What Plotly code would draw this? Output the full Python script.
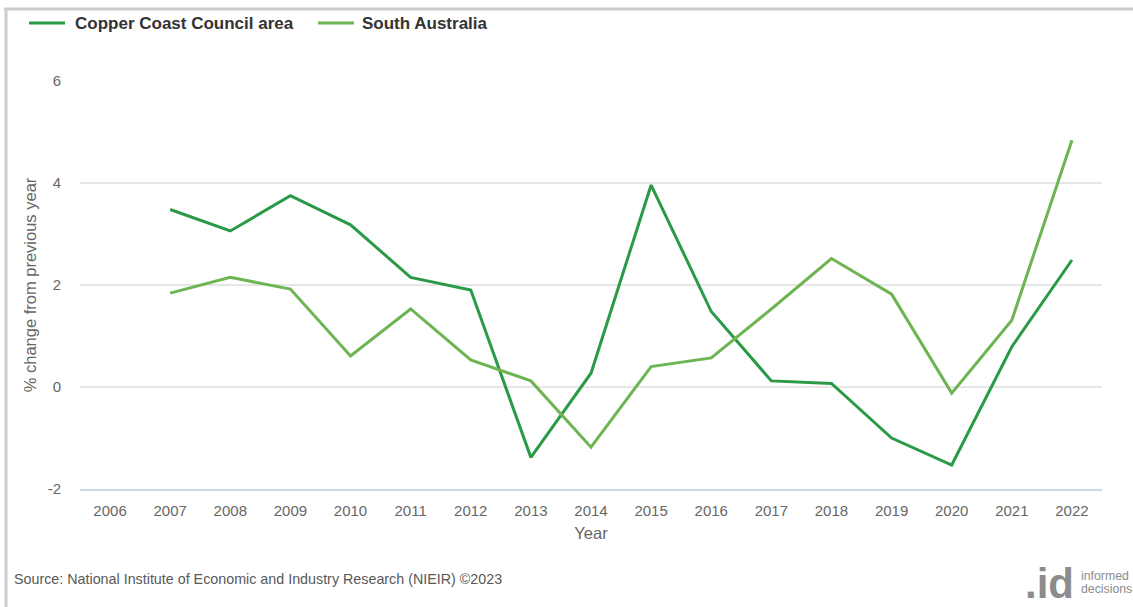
import plotly.graph_objects as go

years = [str(y) for y in range(2006, 2023)]
copper_coast = [None, 3.48, 3.06, 3.75, 3.18, 2.15, 1.90, -1.38, 0.27, 3.96, 1.48, 0.12, 0.07, -1.00, -1.53, 0.79, 2.49]
south_australia = [None, 1.84, 2.15, 1.92, 0.61, 1.53, 0.53, 0.12, -1.18, 0.40, 0.57, 1.53, 2.52, 1.82, -0.12, 1.31, 4.84]
y_ticks = [-2, 0, 2, 4, 6]
y_tick_text = ["-2", "0", "2", "4", "6"]
series_names = ["Copper Coast Council area", "South Australia"]

DARK = "#2a9a46"
LIGHT = "#6db553"
FONT = "Liberation Sans, Arial, sans-serif"

W, H = 1133, 607
L, R, T, B = 80, 1102, 81, 489


def px(x):
    return (x - L) / (R - L)


def py(y):
    return (B - y) / (B - T)


fig = go.Figure()
fig.add_trace(go.Scatter(x=years, y=copper_coast, mode="lines", name=series_names[0],
                         line=dict(color=DARK, width=3)))
fig.add_trace(go.Scatter(x=years, y=south_australia, mode="lines", name=series_names[1],
                         line=dict(color=LIGHT, width=3)))

fig.update_layout(
    width=W, height=H,
    margin=dict(l=L, r=W - R, t=T, b=H - B),
    paper_bgcolor="white", plot_bgcolor="white",
    font=dict(family=FONT, color="#666666", size=15),
    showlegend=False,
    xaxis=dict(type="category", showgrid=False, showline=True, linecolor="#ccd6eb", linewidth=1.5,
               ticks="", tickfont=dict(size=15, color="#666666"), ticklabelstandoff=7,
               title=dict(text="Year", font=dict(size=16.5, color="#666666"), standoff=10),
               range=[-0.5, 16.5], fixedrange=True),
    yaxis=dict(range=[-2, 6], tickvals=y_ticks, ticktext=y_tick_text, showgrid=True, gridcolor="#e6e6e6",
               gridwidth=1.5, zeroline=False, showline=False, ticks="", ticklabelstandoff=18,
               tickfont=dict(size=15, color="#666666"),
               title=dict(text="% change from previous year", font=dict(size=16.5, color="#666666"), standoff=6)),
)

# frame lines (top and left)
fig.add_shape(type="line", xref="paper", yref="paper", x0=px(4), x1=px(1140), y0=py(9), y1=py(9),
              line=dict(color="#cccccc", width=3), layer="above")
fig.add_shape(type="line", xref="paper", yref="paper", x0=px(6), x1=px(6), y0=py(9), y1=py(620),
              line=dict(color="#cccccc", width=3), layer="above")

# legend (drawn manually to match positions)
legend_items = [(series_names[0], DARK, 29, 73), (series_names[1], LIGHT, 318, 360)]
for name, color, lx, tx in legend_items:
    fig.add_shape(type="line", xref="paper", yref="paper", x0=px(lx), x1=px(lx + 36), y0=py(23), y1=py(23),
                  line=dict(color=color, width=3))
    fig.add_annotation(text="<b>" + name + "</b>", xref="paper", yref="paper", x=px(tx), y=py(23),
                       xanchor="left", yanchor="middle", showarrow=False,
                       font=dict(size=17, color="#333333"))

fig.add_annotation(text="Source: National Institute of Economic and Industry Research (NIEIR) ©2023",
                   xref="paper", yref="paper", x=px(12), y=py(579), xanchor="left", yanchor="middle",
                   showarrow=False, font=dict(size=14.3, color="#595959"))
fig.add_annotation(text="<b>.id</b>", xref="paper", yref="paper", x=px(1076), y=py(583),
                   xanchor="right", yanchor="middle", showarrow=False,
                   font=dict(size=42, color="#8c8c8c"))
fig.add_annotation(text="informed", xref="paper", yref="paper", x=px(1079), y=py(576),
                   xanchor="left", yanchor="middle", showarrow=False,
                   font=dict(size=12.3, color="#8c8c8c"))
fig.add_annotation(text="decisions", xref="paper", yref="paper", x=px(1079), y=py(589),
                   xanchor="left", yanchor="middle", showarrow=False,
                   font=dict(size=12.3, color="#8c8c8c"))

fig.write_html("out.html")
